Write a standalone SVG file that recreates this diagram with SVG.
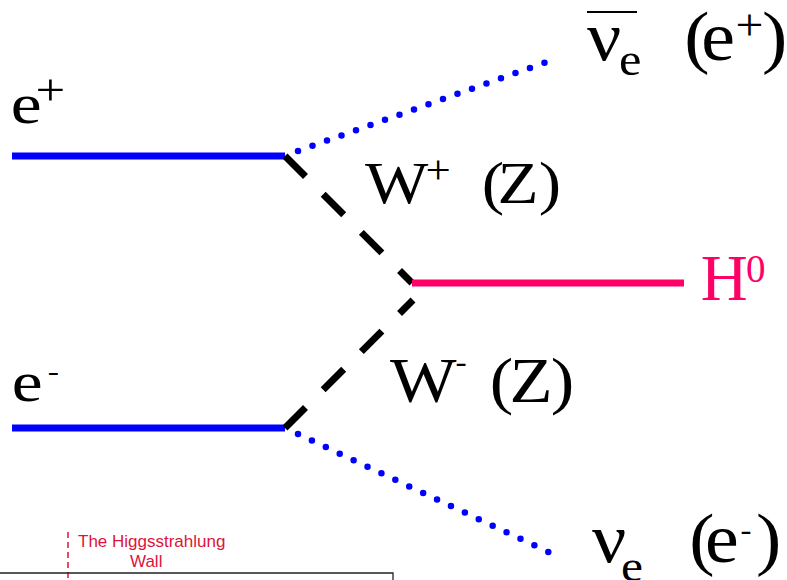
<svg xmlns="http://www.w3.org/2000/svg" width="787" height="580" viewBox="0 0 787 580">
<style>
.lbl{font-family:"Liberation Serif","Times New Roman",serif;fill:#000}
.fer{stroke:#0000ff;stroke-width:7;fill:none}
.nu{stroke:#0000ff;stroke-width:6.5;stroke-linecap:round;fill:none}
.bos{stroke:#000;stroke-width:7;stroke-dasharray:29 25;fill:none}
.hig{stroke:#ff0066;stroke-width:7;fill:none}
.note{font-family:"Liberation Sans",Arial,sans-serif;font-size:17px;fill:#dc143c}
</style>
<rect width="787" height="580" fill="#fff"/>
<g id="connectors">
<line class="fer" x1="12" y1="156" x2="285" y2="156"/>
<line class="fer" x1="12" y1="428" x2="285" y2="428"/>
<path class="bos" d="M285,156 L412,283"/>
<path class="bos" d="M285,428 L413,300"/>
<line class="hig" x1="412" y1="283" x2="684" y2="283"/>
<path class="nu" d="M298,151 L545,62.5" stroke-dasharray="0 15.4"/>
<path class="nu" d="M298,434 L548.5,552" stroke-dasharray="0 15.37"/>
</g>
<g id="label-eplus">
<text class="lbl" transform="translate(12,0) scale(1.2,1)"><tspan x="-1" y="123" font-size="58">e</tspan><tspan x="19.5" y="105" font-size="44">+</tspan></text>
</g>
<g id="label-eminus">
<text class="lbl" transform="translate(13,0) scale(1.2,1)"><tspan x="-1" y="401" font-size="58">e</tspan><tspan x="29" y="380" font-size="28">-</tspan></text>
</g>
<g id="label-wplus">
<text class="lbl" transform="translate(365,0) scale(1.12,1)"><tspan x="0" y="203" font-size="60">W</tspan><tspan x="54" y="183" font-size="40">+</tspan><tspan x="104.2" y="203" font-size="60">(</tspan><tspan x="118.2" y="203" font-size="60">Z</tspan><tspan x="155.2" y="203" font-size="60">)</tspan></text>
</g>
<g id="label-wminus">
<text class="lbl" transform="translate(390,0) scale(1.12,1)"><tspan x="0" y="402" font-size="63">W</tspan><tspan x="58.6" y="372" font-size="30">-</tspan><tspan x="89" y="402" font-size="63">(</tspan><tspan x="106.6" y="402" font-size="63">Z</tspan><tspan x="143.6" y="402" font-size="63">)</tspan></text>
</g>
<g id="label-higgs">
<text class="lbl" style="fill:#ff0066"><tspan x="700.8" y="300" font-size="65">H</tspan><tspan x="746" y="282" font-size="39">0</tspan></text>
</g>
<g id="label-nubar">
<line x1="587" y1="12" x2="637" y2="12" stroke="#000" stroke-width="2"/>
<text class="lbl" transform="translate(587,0) scale(1.1,1)"><tspan x="0" y="60" font-size="69">ν</tspan><tspan x="29" y="75" font-size="46">e</tspan><tspan x="88.5" y="60" font-size="69">(</tspan><tspan x="103.8" y="60" font-size="69">e</tspan><tspan x="135" y="40" font-size="45">+</tspan><tspan x="159" y="60" font-size="69">)</tspan></text>
</g>
<g id="label-nu">
<text class="lbl" transform="translate(592,0) scale(1.1,1)"><tspan x="0" y="562" font-size="69">ν</tspan><tspan x="26.3" y="581" font-size="45">e</tspan><tspan x="88.5" y="562" font-size="69">(</tspan><tspan x="102.8" y="562" font-size="69">e</tspan><tspan x="135" y="540" font-size="30">-</tspan><tspan x="149" y="562" font-size="69">)</tspan></text>
</g>
<g id="wall">
<line x1="68" y1="532" x2="68" y2="580" stroke="#dc143c" stroke-width="1.5" stroke-dasharray="6 4"/>
<text class="note"><tspan x="78" y="547">The Higgsstrahlung</tspan><tspan x="130" y="567">Wall</tspan></text>
<path d="M0,573 H393 V581" fill="none" stroke="#222" stroke-width="1.3"/>
</g>
</svg>
